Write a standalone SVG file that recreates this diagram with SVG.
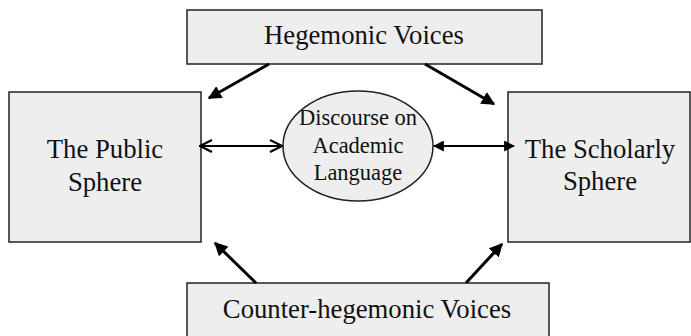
<svg xmlns="http://www.w3.org/2000/svg" width="691" height="336" viewBox="0 0 691 336">
  <style>
    .box { fill: #eeeeee; stroke: #222222; stroke-width: 1.5; }
    .label { font-family: "Liberation Serif", "Times New Roman", serif; fill: #111111; text-anchor: middle; }
    .big { font-size: 26.7px; }
    .small { font-size: 22.5px; }
    .link { stroke: #000000; fill: none; }
    .thick { stroke-width: 3; }
    .thin { stroke-width: 2; }
  </style>
  <defs>
    <marker id="solidHead" viewBox="0 0 10 10" refX="9" refY="5" markerWidth="4.5" markerHeight="4.5" orient="auto-start-reverse" markerUnits="strokeWidth">
      <path d="M0,0 L10,5 L0,10 z" fill="#000000"/>
    </marker>
    <marker id="smallHead" viewBox="0 0 10 10" refX="9" refY="5" markerWidth="5.5" markerHeight="5.5" orient="auto-start-reverse" markerUnits="strokeWidth">
      <path d="M0,0 L10,5 L0,10 z" fill="#000000"/>
    </marker>
    <marker id="openHead" viewBox="0 0 14 14" refX="13" refY="7" markerWidth="7" markerHeight="7" orient="auto-start-reverse" markerUnits="strokeWidth">
      <path d="M1,1 L13,7 L1,13" fill="none" stroke="#000000" stroke-width="2.2"/>
    </marker>
  </defs>

  <!-- nodes -->
  <g id="hegemonic">
    <rect class="box" x="187" y="10" width="355" height="54"/>
    <text class="label big" x="364" y="44">Hegemonic Voices</text>
  </g>

  <g id="public-sphere">
    <rect class="box" x="9" y="92" width="192" height="150"/>
    <text class="label big" x="105" y="158">The Public</text>
    <text class="label big" x="105" y="191">Sphere</text>
  </g>

  <g id="discourse">
    <ellipse class="box" cx="358" cy="146" rx="75" ry="55"/>
    <text class="label small" x="358" y="125">Discourse on</text>
    <text class="label small" x="358" y="153">Academic</text>
    <text class="label small" x="358" y="180">Language</text>
  </g>

  <g id="scholarly-sphere">
    <rect class="box" x="508" y="92" width="182" height="150"/>
    <text class="label big" x="600" y="158">The Scholarly</text>
    <text class="label big" x="600" y="190">Sphere</text>
  </g>

  <g id="counter-hegemonic">
    <rect class="box" x="187" y="283" width="362" height="60"/>
    <text class="label big" x="367" y="318">Counter-hegemonic Voices</text>
  </g>

  <!-- connectors -->
  <g id="connectors">
    <line class="link thick" x1="269" y1="64" x2="209" y2="98" marker-end="url(#solidHead)"/>
    <line class="link thick" x1="425" y1="64" x2="494" y2="104" marker-end="url(#solidHead)"/>
    <line class="link thick" x1="256" y1="283" x2="215" y2="243" marker-end="url(#solidHead)"/>
    <line class="link thick" x1="466" y1="283" x2="502" y2="244" marker-end="url(#solidHead)"/>
    <line class="link thin" x1="200" y1="146" x2="282" y2="146" marker-start="url(#openHead)" marker-end="url(#openHead)"/>
    <line class="link thin" x1="434" y1="146" x2="514" y2="146" marker-start="url(#smallHead)" marker-end="url(#smallHead)"/>
  </g>
</svg>
